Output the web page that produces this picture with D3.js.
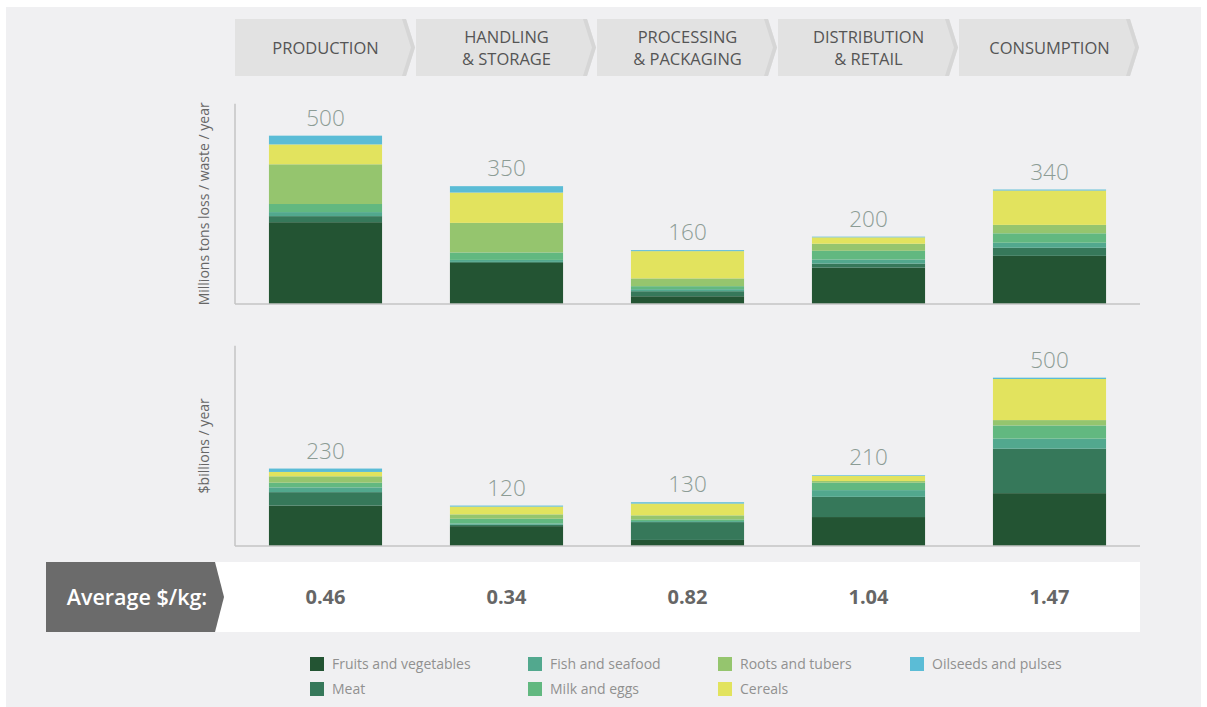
<!DOCTYPE html>
<html>
<head>
<meta charset="utf-8">
<script src="https://cdn.jsdelivr.net/npm/d3@7"></script>
<style>
  html, body { margin: 0; padding: 0; background: #ffffff; }
  svg { display: block; }
  text { font-family: "Open Sans", "Noto Sans", sans-serif; }
</style>
</head>
<body>
<svg id="chart" width="1207" height="707"></svg>
<script>
// ---------- DATA ----------
const stages = ["PRODUCTION", "HANDLING\n& STORAGE", "PROCESSING\n& PACKAGING", "DISTRIBUTION\n& RETAIL", "CONSUMPTION"];
const categories = ["Fruits and vegetables", "Meat", "Fish and seafood", "Milk and eggs", "Roots and tubers", "Cereals", "Oilseeds and pulses"];
const categoryColors = ["#235433", "#36785a", "#52a88e", "#62b880", "#95c56e", "#e2e35e", "#5bbcd6"];

// Millions tons loss / waste / year, per stage (order = categories)
const tonsFruitsVeg = [243, 122, 23, 108, 143];
const tonsMeat      = [18, 3, 15, 12, 24];
const tonsFish      = [12, 6, 6, 12, 15];
const tonsMilkEggs  = [24, 22, 9, 26, 28];
const tonsRoots     = [118, 88, 23, 21, 25];
const tonsCereals   = [59, 90, 81, 19, 102];
const tonsOilseeds  = [26, 19, 3, 2, 3];
const tonsTotals    = [500, 350, 160, 200, 340];

// $billions / year, per stage
const usdFruitsVeg = [120, 59, 18, 86, 157];
const usdMeat      = [40, 4, 53, 60, 132];
const usdFish      = [14, 4, 3, 20, 30];
const usdMilkEggs  = [14, 14, 5, 22, 39];
const usdRoots     = [19, 13, 12, 5, 16];
const usdCereals   = [13, 23, 35, 15, 122];
const usdOilseeds  = [10, 3, 4, 2, 4];
const usdTotals    = [230, 120, 130, 210, 500];

const avgPerKg = ["0.46", "0.34", "0.82", "1.04", "1.47"];

const legendOrder = [0, 1, 2, 3, 4, 5, 6];

// ---------- BUILD TABLES ----------
function buildRows(series) {
  return stages.map((s, i) => {
    const row = { stage: s };
    categories.forEach((c, k) => { row[c] = series[k][i]; });
    return row;
  });
}
const tonsRows = buildRows([tonsFruitsVeg, tonsMeat, tonsFish, tonsMilkEggs, tonsRoots, tonsCereals, tonsOilseeds]);
const usdRows  = buildRows([usdFruitsVeg, usdMeat, usdFish, usdMilkEggs, usdRoots, usdCereals, usdOilseeds]);

// ---------- SETUP ----------
const svg = d3.select("#chart");
const color = d3.scaleOrdinal().domain(categories).range(categoryColors);

svg.append("rect").attr("x", 6).attr("y", 7).attr("width", 1195).attr("height", 700).attr("fill", "#f0f0f2");

const xLeft = 235, xRight = 1140;
const xBand = d3.scaleBand().domain(stages).range([xLeft, xRight]).paddingInner(0.375).paddingOuter(0.1875);
const xHead = d3.scaleBand().domain(stages).range([xLeft, xRight]).padding(0);

// ---------- HEADER CHEVRONS ----------
const headTop = 19, headBot = 76, tip = 9;
const head = svg.append("g");
stages.forEach((s, i) => {
  const x0 = xHead(s), x1 = x0 + xHead.step() - tip - 1;
  const mid = (headTop + headBot) / 2;
  head.append("path")
    .attr("d", `M${x0},${headTop}L${x1},${headTop}L${x1 + tip},${mid}L${x1},${headBot}L${x0},${headBot}Z`)
    .attr("fill", "#e2e2e2");
  head.append("path")
    .attr("d", `M${x1 - 4},${headTop}L${x1},${headTop}L${x1 + tip},${mid}L${x1},${headBot}L${x1 - 4},${headBot}L${x1 - 4 + tip},${mid}Z`)
    .attr("fill", "#d6d6d6");
  const lines = s.split("\n");
  const cx = xBand(s) + xBand.bandwidth() / 2;
  const t = head.append("text")
    .attr("x", cx).attr("text-anchor", "middle")
    .attr("fill", "#555").attr("font-size", 16.5);
  lines.forEach((ln, j) => {
    t.append("tspan").attr("x", cx)
      .attr("y", mid + 6 + (j - (lines.length - 1) / 2) * 22)
      .text(ln);
  });
});

// ---------- STACKED PANELS ----------
function panel(rows, totals, top, bottom, label) {
  const y = d3.scaleLinear().domain([0, 600]).range([bottom, top]);
  const stack = d3.stack().keys(categories)(rows);
  const g = svg.append("g");
  g.selectAll("g.layer").data(stack).join("g")
    .attr("fill", d => color(d.key))
    .selectAll("rect").data(d => d).join("rect")
    .attr("x", d => xBand(d.data.stage))
    .attr("width", xBand.bandwidth())
    .attr("y", d => y(d[1]))
    .attr("height", d => y(d[0]) - y(d[1]));

  // axes lines
  g.append("line").attr("x1", xLeft).attr("x2", xLeft).attr("y1", y(595)).attr("y2", bottom)
    .attr("stroke", "#c4c4c4").attr("stroke-width", 1.5);
  g.append("line").attr("x1", xLeft).attr("x2", xRight).attr("y1", bottom).attr("y2", bottom)
    .attr("stroke", "#c4c4c4").attr("stroke-width", 1.5);

  g.selectAll("text.total").data(totals).join("text")
    .attr("class", "total")
    .attr("x", (d, i) => xBand(stages[i]) + xBand.bandwidth() / 2)
    .attr("y", d => y(d) - 10)
    .attr("text-anchor", "middle")
    .attr("fill", "#8c9c95").attr("font-size", 22.5).attr("font-weight", 300)
    .text(d => d);

  g.append("text")
    .attr("transform", `translate(209,${(y(595) + bottom) / 2}) rotate(-90)`)
    .attr("text-anchor", "middle").attr("fill", "#666").attr("font-size", 14)
    .text(label);
}
panel(tonsRows, tonsTotals, 102, 304, "Millions tons loss / waste / year");
panel(usdRows, usdTotals, 344, 546, "$billions / year");

// ---------- AVERAGE ROW ----------
const avgTop = 562, avgBot = 632, avgMid = (avgTop + avgBot) / 2;
svg.append("rect").attr("x", 215).attr("y", avgTop).attr("width", xRight - 215).attr("height", avgBot - avgTop).attr("fill", "#ffffff");
svg.append("path")
  .attr("d", `M46,${avgTop}L215,${avgTop}L224,${avgMid}L215,${avgBot}L46,${avgBot}Z`)
  .attr("fill", "#6b6b6b");
svg.append("text").attr("x", 137).attr("y", avgMid + 7.5).attr("text-anchor", "middle")
  .attr("fill", "#ffffff").attr("font-size", 21.5).attr("font-weight", 600)
  .text("Average $/kg:");
svg.selectAll("text.avg").data(avgPerKg).join("text")
  .attr("class", "avg")
  .attr("x", (d, i) => xBand(stages[i]) + xBand.bandwidth() / 2)
  .attr("y", avgMid + 7)
  .attr("text-anchor", "middle").attr("fill", "#666").attr("font-size", 20).attr("font-weight", 700)
  .text(d => d);

// ---------- LEGEND ----------
const legendX = [310, 528, 718, 910];
const legendY = [657, 682];
const leg = svg.append("g");
legendOrder.forEach((k, idx) => {
  const col = Math.floor(idx / 2), row = idx % 2;
  const gx = legendX[col], gy = legendY[row];
  leg.append("rect").attr("x", gx).attr("y", gy).attr("width", 14).attr("height", 14).attr("fill", categoryColors[k]);
  leg.append("text").attr("x", gx + 22).attr("y", gy + 11.5)
    .attr("fill", "#909090").attr("font-size", 14)
    .text(categories[k]);
});
</script>
</body>
</html>
